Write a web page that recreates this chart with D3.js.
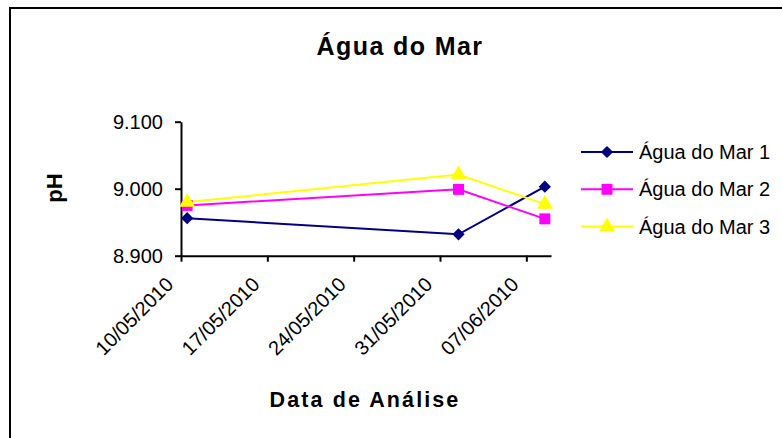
<!DOCTYPE html>
<html>
<head>
<meta charset="utf-8">
<script src="https://cdn.jsdelivr.net/npm/d3@7"></script>
<style>
  body { margin: 0; background: #fff; }
  svg { font-family: "Liberation Sans", Arial, sans-serif; }
</style>
</head>
<body>
<svg id="chart" width="782" height="438"></svg>
<script>
// data
let dates = ["2010-05-10", "2010-06-01", "2010-06-08"];
let seriesNames = ["Água do Mar 1", "Água do Mar 2", "Água do Mar 3"];
let mar1 = [8.956, 8.932, 9.003];
let mar2 = [8.975, 8.999, 8.955];
let mar3 = [8.980, 9.021, 8.977];
let xTicks = ["2010-05-10", "2010-05-17", "2010-05-24", "2010-05-31", "2010-06-07"];
let xDomain = ["2010-05-10", "2010-06-09"];
let yTicks = [8.9, 9.0, 9.1];

let parse = d3.timeParse("%Y-%m-%d");
let fmt = d3.timeFormat("%d/%m/%Y");

let colors = ["#000080", "#ff00ff", "#ffff00"];
// diamond = square turned 45deg
let symbols = [d3.symbolSquare, d3.symbolSquare, d3.symbolTriangle];
let symbolSizes = [75, 120, 110];
let symbolRot = [45, 0, 0];

let series = [mar1, mar2, mar3].map(function (vals, i) {
  return {
    name: seriesNames[i],
    values: vals.map(function (v, j) { return { date: parse(dates[j]), value: v }; })
  };
});

let svg = d3.select('#chart');

// outer frame
svg.append('rect')
  .attr('x', 10).attr('y', 8)
  .attr('width', 800).attr('height', 500)
  .attr('fill', 'none')
  .attr('stroke', '#000')
  .attr('stroke-width', 2);

let x = d3.scaleTime()
  .domain(xDomain.map(parse))
  .range([181, 551]);

let y = d3.scaleLinear()
  .domain([8.9, 9.1])
  .range([255.7, 121.7]);

// points sit in the middle of their day
function px(d) { return x(d3.timeHour.offset(d.date, 12)); }

// y axis
let yAxis = svg.append('g')
  .attr('transform', 'translate(181,0)')
  .call(d3.axisLeft(y).tickValues(yTicks).tickFormat(d3.format('.3f')).tickSizeOuter(0).tickSizeInner(6).tickPadding(12));
yAxis.select('.domain').attr('stroke-width', 2);
yAxis.selectAll('.tick line').attr('stroke-width', 2);
yAxis.selectAll('text').attr('font-size', 20).attr('fill', '#000')
  .attr('font-family', '"Liberation Sans", Arial, sans-serif');

// x axis
let xAxis = svg.append('g')
  .attr('transform', 'translate(0,255.7)')
  .call(d3.axisBottom(x).tickValues(xTicks.map(parse)).tickFormat(fmt).tickSizeOuter(0).tickSizeInner(6));
xAxis.select('.domain').attr('stroke-width', 2);
xAxis.selectAll('.tick line').attr('stroke-width', 2);
xAxis.selectAll('text')
  .attr('font-size', 20).attr('fill', '#000')
  .attr('font-family', '"Liberation Sans", Arial, sans-serif')
  .attr('text-anchor', 'end')
  .attr('y', 0).attr('dy', 0)
  .attr('transform', 'translate(-7,30) rotate(-45)');

// lines
let line = d3.line()
  .x(px)
  .y(function (d) { return y(d.value); });

series.forEach(function (s, i) {
  svg.append('path')
    .datum(s.values)
    .attr('fill', 'none')
    .attr('stroke', colors[i])
    .attr('stroke-width', 2)
    .attr('d', line);
});

series.forEach(function (s, i) {
  svg.append('g').selectAll('path')
    .data(s.values)
    .enter()
    .append('path')
    .attr('d', d3.symbol().type(symbols[i]).size(symbolSizes[i]))
    .attr('transform', function (d) {
      return 'translate(' + px(d) + ',' + y(d.value) + ') rotate(' + symbolRot[i] + ')';
    })
    .attr('fill', colors[i]);
});

// legend
let legend = svg.selectAll('.legend')
  .data(series)
  .enter()
  .append('g')
  .attr('class', 'legend')
  .attr('transform', function (d, i) { return 'translate(581,' + (152 + i * 37.3) + ')'; });

legend.append('line')
  .attr('x1', 0).attr('x2', 52)
  .attr('stroke', function (d, i) { return colors[i]; })
  .attr('stroke-width', 2);

legend.append('path')
  .attr('d', function (d, i) { return d3.symbol().type(symbols[i]).size(symbolSizes[i])(); })
  .attr('transform', function (d, i) { return 'translate(26,0) rotate(' + symbolRot[i] + ')'; })
  .attr('fill', function (d, i) { return colors[i]; });

legend.append('text')
  .attr('x', 58)
  .attr('y', 7)
  .attr('font-size', 20)
  .text(function (d) { return d.name; });

// titles
svg.append('text')
  .attr('x', 400).attr('y', 55)
  .attr('text-anchor', 'middle')
  .attr('font-size', 25)
  .attr('font-weight', 'bold')
  .attr('letter-spacing', 1.4)
  .text('Água do Mar');

svg.append('text')
  .attr('x', 365).attr('y', 407)
  .attr('text-anchor', 'middle')
  .attr('font-size', 21.5)
  .attr('font-weight', 'bold')
  .attr('letter-spacing', 2.1)
  .text('Data de Análise');

svg.append('text')
  .attr('transform', 'translate(62,188) rotate(-90)')
  .attr('text-anchor', 'middle')
  .attr('font-size', 22)
  .attr('font-weight', 'bold')
  .text('pH');
</script>
</body>
</html>
